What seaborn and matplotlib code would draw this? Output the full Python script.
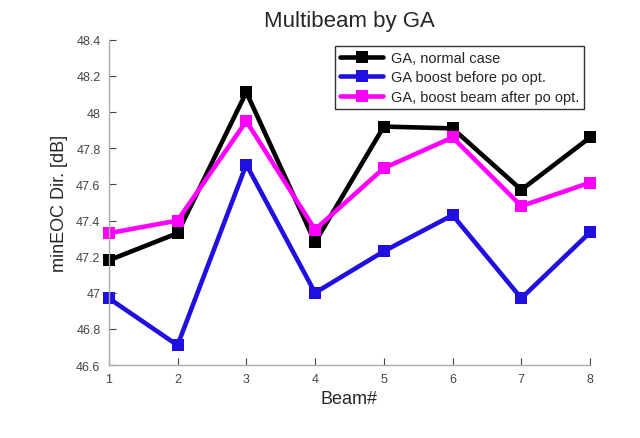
import matplotlib
matplotlib.use("Agg")
import matplotlib.pyplot as plt
import seaborn as sns
import pandas as pd

beams = [1, 2, 3, 4, 5, 6, 7, 8]
normal_case = [47.18, 47.33, 48.11, 47.28, 47.92, 47.91, 47.57, 47.86]
boost_before = [46.97, 46.71, 47.71, 47.00, 47.23, 47.43, 46.97, 47.335]
boost_after = [47.33, 47.40, 47.95, 47.35, 47.69, 47.86, 47.48, 47.61]
series_names = ["GA, normal case", "GA boost before po opt.", "GA, boost beam after po opt."]
colors = ["#000000", "#2010e0", "#ff00ff"]
yticks = [46.6, 46.8, 47.0, 47.2, 47.4, 47.6, 47.8, 48.0, 48.2, 48.4]
ytick_labels = ["46.6", "46.8", "47", "47.2", "47.4", "47.6", "47.8", "48", "48.2", "48.4"]

rows = []
for name, vals in zip(series_names, [normal_case, boost_before, boost_after]):
    for b, v in zip(beams, vals):
        rows.append({"Beam": b, "Value": v, "Series": name})
df = pd.DataFrame(rows)

sns.set_style("white")
plt.rcParams["font.family"] = ["Liberation Sans", "DejaVu Sans"]

fig = plt.figure(figsize=(6.4, 4.39), dpi=100)
ax = fig.add_axes([0.170, 0.166, 0.752, 0.741])

sns.lineplot(data=df, x="Beam", y="Value", hue="Series", hue_order=series_names,
             palette=colors, style="Series", markers=["s", "s", "s"], dashes=False,
             linewidth=3.3, markersize=8.5, markeredgewidth=0, ax=ax, sort=False,
             clip_on=False)

ax.set_xlim(1, 8)
ax.set_ylim(46.6, 48.4)
ax.set_xticks(beams)
ax.set_xticklabels([str(b) for b in beams])
ax.set_yticks(yticks)
ax.set_yticklabels(ytick_labels)
for s in ["top", "right"]:
    ax.spines[s].set_visible(False)
for s in ["left", "bottom"]:
    ax.spines[s].set_color("#aaaaaa")
    ax.spines[s].set_linewidth(1)
ax.tick_params(direction="in", length=5, color="#444444", labelsize=9, labelcolor="#444444", pad=6,
               left=True, bottom=True)

ax.set_title("Multibeam by GA", fontsize=16, pad=10)
ax.set_xlabel("Beam#", fontsize=13, labelpad=3)
ax.set_ylabel("minEOC Dir. [dB]", fontsize=13, labelpad=6)

leg = ax.legend(loc="upper right", bbox_to_anchor=(0.9875, 0.982), fontsize=10.5, frameon=True,
                fancybox=False, edgecolor="black", handlelength=3.0, borderpad=0.35,
                labelspacing=0.38, handletextpad=0.5, borderaxespad=0)
leg.get_frame().set_linewidth(1)

fig.savefig("out.png", dpi=100)
